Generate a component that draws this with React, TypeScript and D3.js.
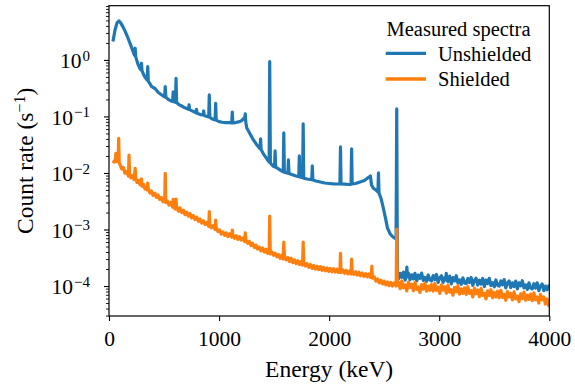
import React, { useEffect, useRef } from "react";
import * as d3 from "d3";

const W = 575;
const H = 385;
const PL = 109;
const PR = 549.3;
const PT = 5.7;
const PB = 316;
const FONT = "'Liberation Serif', 'Times New Roman', serif";

const xDomain = [0, 4000];
const yDomain = [2.95e-5, 9.1];
const xTicks = [0, 1000, 2000, 3000, 4000];
const yMajorTicks = [1e-4, 1e-3, 1e-2, 1e-1, 1];
const xLabel = "Energy (keV)";
const yLabelMain = "Count rate (s";
const yLabelExp = "\u22121";
const legendTitle = "Measured spectra";
const seriesNames = ["Unshielded", "Shielded"];
const seriesColors = ["#1f77b4", "#ff7f0e"];

// Unshielded spectrum: [energy keV, count rate s^-1]
const unshielded: [number, number][] = [
  [36, 2.11], [55, 3.4], [73, 4.52], [91, 4.9], [109, 4.43], [127, 3.84], [145, 3.26], [173, 2.42],
  [200, 1.77], [225, 1.3], [233, 1.2], [238, 1.61], [243, 1.13], [262, 0.85], [280, 0.713], [290, 0.67],
  [295, 0.874], [300, 0.64], [320, 0.52], [340, 0.46], [347, 0.44], [352, 0.761], [357, 0.42],
  [388, 0.337], [418, 0.312], [448, 0.265], [480, 0.24], [505, 0.222], [511, 0.337], [517, 0.218],
  [545, 0.196], [570, 0.186], [578, 0.184], [583, 0.272], [588, 0.182], [604, 0.178], [609, 0.474],
  [614, 0.176], [640, 0.16], [660, 0.153], [690, 0.142], [722, 0.134], [727, 0.16], [732, 0.132],
  [760, 0.124], [790, 0.116], [795, 0.133], [800, 0.114], [830, 0.108], [855, 0.106], [860, 0.125],
  [865, 0.104], [890, 0.1], [906, 0.098], [911, 0.24], [916, 0.096], [940, 0.09], [964, 0.087],
  [969, 0.171], [974, 0.086], [1000, 0.081], [1030, 0.079], [1060, 0.078], [1090, 0.0775],
  [1115, 0.077], [1120, 0.119], [1125, 0.077], [1150, 0.078], [1175, 0.08], [1200, 0.083],
  [1220, 0.09], [1234, 0.097], [1238, 0.111], [1243, 0.078], [1252, 0.0626], [1282, 0.049],
  [1312, 0.0384], [1343, 0.0313], [1372, 0.027], [1377, 0.04], [1382, 0.026], [1403, 0.0217],
  [1434, 0.0177], [1455, 0.0157], [1460, 0.933], [1466, 0.015], [1490, 0.0133], [1504, 0.0129],
  [1509, 0.0245], [1514, 0.0127], [1540, 0.0118], [1570, 0.0108], [1583, 0.0105], [1588, 0.051],
  [1593, 0.0103], [1625, 0.0099], [1630, 0.017], [1635, 0.0098], [1660, 0.0094], [1700, 0.00885],
  [1724, 0.0086], [1729, 0.02], [1734, 0.0085], [1759, 0.0082], [1764, 0.0736], [1769, 0.0081],
  [1800, 0.00783], [1842, 0.0076], [1847, 0.0133], [1852, 0.0075], [1880, 0.0072], [1920, 0.00693],
  [1960, 0.00665], [2000, 0.00652], [2040, 0.0064], [2080, 0.00638], [2098, 0.0064], [2103, 0.0289],
  [2108, 0.0064], [2140, 0.00635], [2180, 0.00626], [2199, 0.0063], [2204, 0.0266], [2209, 0.0064],
  [2240, 0.00652], [2280, 0.00693], [2320, 0.00737], [2350, 0.00816], [2375, 0.00885], [2385, 0.00613],
  [2400, 0.00543], [2430, 0.0049], [2443, 0.0046], [2448, 0.01], [2453, 0.0044], [2470, 0.00361],
  [2490, 0.0025], [2510, 0.00166], [2530, 0.00106], [2555, 0.000832], [2580, 0.000737],
  [2608, 0.000679], [2614, 0.136], [2620, 0.000148],
  [2630, 1.35e-4], [2645, 1.68e-4], [2660, 1.42e-4], [2675, 1.76e-4], [2690, 1.27e-4], [2701, 1.5e-4],
  [2706, 2.17e-4], [2711, 1.45e-4], [2720, 1.69e-4], [2735, 1.29e-4], [2750, 1.58e-4], [2765, 1.34e-4],
  [2780, 1.68e-4], [2795, 1.23e-4], [2810, 1.56e-4], [2825, 1.37e-4], [2840, 1.69e-4], [2855, 1.26e-4],
  [2870, 1.42e-4], [2885, 1.21e-4], [2900, 1.57e-4], [2915, 1.28e-4], [2930, 1.23e-4], [2945, 1.53e-4],
  [2960, 1.29e-4], [2975, 1.6e-4], [2990, 1.16e-4], [3005, 1.4e-4], [3020, 1.52e-4], [3035, 1.16e-4],
  [3050, 1.41e-4], [3059, 1.3e-4], [3064, 1.68e-4], [3069, 1.25e-4], [3080, 1.2e-4], [3095, 1.5e-4],
  [3110, 1.09e-4], [3125, 1.41e-4], [3140, 1.23e-4], [3155, 1.52e-4], [3170, 1.13e-4], [3185, 1.28e-4],
  [3200, 1.07e-4], [3215, 1.4e-4], [3230, 1.13e-4], [3245, 1.1e-4], [3260, 1.36e-4], [3275, 1.15e-4],
  [3290, 1.42e-4], [3305, 1.03e-4], [3320, 1.25e-4], [3335, 1.37e-4], [3350, 1.04e-4], [3365, 1.27e-4],
  [3380, 1.08e-4], [3395, 1.36e-4], [3410, 0.98e-4], [3425, 1.27e-4], [3440, 1.11e-4], [3455, 1.37e-4],
  [3470, 1.02e-4], [3485, 1.15e-4], [3500, 0.97e-4], [3515, 1.28e-4], [3530, 1.03e-4], [3545, 1.0e-4],
  [3560, 1.23e-4], [3575, 1.05e-4], [3590, 1.3e-4], [3605, 0.93e-4], [3620, 1.13e-4], [3635, 1.23e-4],
  [3650, 0.94e-4], [3665, 1.14e-4], [3680, 0.98e-4], [3695, 1.22e-4], [3710, 0.89e-4], [3725, 1.14e-4],
  [3740, 1.01e-4], [3755, 1.24e-4], [3770, 0.93e-4], [3785, 1.05e-4], [3800, 0.87e-4], [3815, 1.14e-4],
  [3830, 0.92e-4], [3845, 0.89e-4], [3860, 1.1e-4], [3875, 0.92e-4], [3890, 1.14e-4], [3905, 0.83e-4],
  [3920, 1.0e-4], [3935, 1.09e-4], [3950, 0.83e-4], [3965, 1.0e-4], [3980, 0.86e-4], [3995, 1.01e-4],
  [4000, 0.9e-4],
];

// Shielded spectrum: [energy keV, count rate s^-1]
const shielded: [number, number][] = [
  [36, 0.015], [50, 0.0165], [58, 0.016], [62, 0.0223], [66, 0.0158], [75, 0.0165], [83, 0.016],
  [88, 0.0411], [93, 0.015], [100, 0.014], [115, 0.0118], [130, 0.0126], [145, 0.0099], [160, 0.0106],
  [177, 0.0088], [182, 0.0208], [187, 0.0095], [200, 0.0082], [215, 0.009], [228, 0.0076],
  [238, 0.0121], [243, 0.0082], [255, 0.0068], [268, 0.0074], [282, 0.0062], [290, 0.0068],
  [295, 0.00783], [300, 0.0058], [313, 0.0063], [327, 0.0052], [340, 0.0056], [347, 0.005],
  [352, 0.00665], [357, 0.0052], [373, 0.0044], [386, 0.0048], [400, 0.004], [418, 0.0044],
  [430, 0.0037], [445, 0.0041], [460, 0.0034], [475, 0.0037], [490, 0.0031], [506, 0.0034],
  [511, 0.00988], [516, 0.003], [530, 0.0032], [545, 0.0027], [560, 0.003], [578, 0.0025],
  [583, 0.00343], [588, 0.0027], [600, 0.0023], [609, 0.00346], [614, 0.0026], [630, 0.0021],
  [645, 0.0024], [660, 0.002], [675, 0.0022], [690, 0.00183], [705, 0.00203], [720, 0.00172],
  [736, 0.00192], [750, 0.0016], [765, 0.00178], [782, 0.0015], [797, 0.00165], [812, 0.0014],
  [827, 0.00153], [842, 0.0013], [857, 0.00143], [873, 0.00122], [888, 0.00134], [906, 0.00114],
  [911, 0.00207], [916, 0.00124], [930, 0.00107], [945, 0.00117], [964, 0.001], [969, 0.00147],
  [974, 0.00109], [990, 0.00092], [1005, 0.00098], [1020, 0.00083], [1035, 0.00091], [1050, 0.00079],
  [1065, 0.00087], [1080, 0.00075], [1095, 0.00084], [1115, 0.00073], [1120, 0.00098], [1125, 0.00081],
  [1140, 0.0007], [1155, 0.00078], [1170, 0.00067], [1185, 0.00075], [1200, 0.00065], [1215, 0.00071],
  [1232, 0.00061], [1238, 0.00087], [1244, 0.00066], [1260, 0.00057], [1275, 0.00062], [1290, 0.00052],
  [1305, 0.00057], [1320, 0.00048], [1335, 0.00053], [1350, 0.00045], [1365, 0.00049], [1380, 0.00042],
  [1395, 0.00047], [1410, 0.0004], [1425, 0.00045], [1440, 0.00038], [1455, 0.00042], [1460, 0.00173],
  [1465, 0.00037], [1480, 0.0004], [1495, 0.00035], [1510, 0.00038], [1525, 0.00033], [1540, 0.00036],
  [1555, 0.00031], [1570, 0.00035], [1582, 0.0003], [1588, 0.0006], [1594, 0.00034], [1610, 0.00029],
  [1625, 0.00032], [1640, 0.00027], [1655, 0.00031], [1670, 0.00026], [1685, 0.00029], [1700, 0.00025],
  [1715, 0.00028], [1730, 0.00024], [1745, 0.00027], [1758, 0.000235], [1764, 0.0006], [1770, 0.00026],
  [1785, 0.000225], [1800, 0.00025], [1815, 0.000215], [1830, 0.00024], [1845, 0.000205],
  [1860, 0.000232], [1875, 0.0002], [1890, 0.000224], [1905, 0.000195], [1920, 0.00022],
  [1935, 0.00019], [1950, 0.000214], [1965, 0.000186], [1980, 0.000209], [1995, 0.000182],
  [2010, 0.000205], [2025, 0.000178], [2040, 0.000202], [2055, 0.000176], [2070, 0.000198],
  [2085, 0.000174], [2098, 0.000192], [2103, 0.00038], [2108, 0.000172], [2125, 0.000193],
  [2140, 0.000168], [2155, 0.000189], [2170, 0.000164], [2185, 0.000185], [2199, 0.000163],
  [2204, 0.0003], [2209, 0.00018], [2225, 0.00016], [2240, 0.000179], [2255, 0.000156],
  [2270, 0.000175], [2285, 0.000152], [2300, 0.00017], [2315, 0.000148], [2330, 0.000166],
  [2345, 0.000145], [2360, 0.000164], [2375, 0.000143], [2383, 0.000155], [2388, 0.000225],
  [2393, 0.000138], [2410, 0.000145], [2425, 0.000122], [2440, 0.000134], [2455, 0.000114],
  [2470, 0.000127], [2485, 0.000109], [2500, 0.000122], [2515, 0.000105], [2530, 0.000118],
  [2545, 0.000102], [2560, 0.000116], [2575, 0.0001], [2590, 0.000113], [2609, 0.0001],
  [2614, 0.00102], [2619, 0.000105],
  [2630, 1.17e-4], [2645, 0.9e-4], [2660, 1.23e-4], [2675, 0.93e-4], [2690, 1.05e-4], [2705, 0.82e-4],
  [2720, 1.17e-4], [2735, 0.94e-4], [2750, 1.08e-4], [2765, 0.83e-4], [2780, 1.16e-4], [2795, 0.87e-4],
  [2810, 0.96e-4], [2825, 0.77e-4], [2840, 1.06e-4], [2855, 0.88e-4], [2870, 1.13e-4], [2885, 0.81e-4],
  [2900, 1.0e-4], [2915, 0.84e-4], [2930, 1.06e-4], [2945, 0.81e-4], [2960, 1.11e-4], [2975, 0.84e-4],
  [2990, 0.95e-4], [3005, 0.74e-4], [3020, 1.05e-4], [3035, 0.85e-4], [3050, 0.97e-4], [3065, 0.75e-4],
  [3080, 1.04e-4], [3095, 0.78e-4], [3110, 0.86e-4], [3125, 0.69e-4], [3140, 0.95e-4], [3155, 0.79e-4],
  [3170, 1.01e-4], [3185, 0.72e-4], [3200, 0.89e-4], [3215, 0.74e-4], [3230, 0.93e-4], [3245, 0.71e-4],
  [3260, 0.98e-4], [3275, 0.74e-4], [3290, 0.83e-4], [3305, 0.64e-4], [3320, 0.92e-4], [3335, 0.73e-4],
  [3350, 0.85e-4], [3365, 0.65e-4], [3380, 0.91e-4], [3395, 0.68e-4], [3410, 0.74e-4], [3425, 0.59e-4],
  [3440, 0.82e-4], [3455, 0.68e-4], [3470, 0.86e-4], [3485, 0.62e-4], [3500, 0.77e-4], [3515, 0.64e-4],
  [3530, 0.81e-4], [3545, 0.62e-4], [3560, 0.84e-4], [3575, 0.63e-4], [3590, 0.71e-4], [3605, 0.56e-4],
  [3620, 0.8e-4], [3635, 0.64e-4], [3650, 0.74e-4], [3665, 0.57e-4], [3680, 0.79e-4], [3695, 0.59e-4],
  [3710, 0.66e-4], [3725, 0.53e-4], [3740, 0.73e-4], [3755, 0.6e-4], [3770, 0.78e-4], [3785, 0.56e-4],
  [3800, 0.69e-4], [3815, 0.58e-4], [3830, 0.72e-4], [3845, 0.55e-4], [3860, 0.76e-4], [3875, 0.57e-4],
  [3890, 0.64e-4], [3905, 0.5e-4], [3920, 0.71e-4], [3935, 0.57e-4], [3950, 0.64e-4], [3965, 0.48e-4],
  [3980, 0.59e-4], [3995, 0.45e-4], [4000, 0.48e-4],
];

const seriesData = [unshielded, shielded];

export default function App() {
  const xAxisRef = useRef<SVGGElement>(null);
  const yMajorRef = useRef<SVGGElement>(null);
  const yMinorRef = useRef<SVGGElement>(null);

  const x = d3.scaleLinear().domain(xDomain).range([PL, PR]);
  const y = d3.scaleLog().domain(yDomain).range([PB, PT]);

  const line = d3
    .line<[number, number]>()
    .x((d) => x(d[0]))
    .y((d) => y(d[1]));

  useEffect(() => {
    const gx = d3.select(xAxisRef.current!);
    gx.call(
      d3.axisBottom(x).tickValues(xTicks).tickSize(5).tickPadding(10).tickFormat(d3.format("d")) as any
    );
    gx.select(".domain").remove();
    gx.attr("font-family", null).attr("font-size", null);
    gx.selectAll(".tick line").attr("stroke", "#000").attr("stroke-width", 1.1);
    gx.selectAll(".tick text")
      .attr("font-family", FONT)
      .attr("font-size", 21.5)
      .attr("fill", "#000");

    const minorVals = y.ticks().filter((v) => !yMajorTicks.some((m) => Math.abs(m - v) / m < 1e-6));
    const gmin = d3.select(yMinorRef.current!);
    gmin.call(d3.axisLeft(y).tickValues(minorVals).tickSize(3).tickFormat(() => "") as any);
    gmin.select(".domain").remove();
    gmin.selectAll(".tick line").attr("stroke", "#000").attr("stroke-width", 0.9);

    const gy = d3.select(yMajorRef.current!);
    gy.call(d3.axisLeft(y).tickValues(yMajorTicks).tickSize(5).tickPadding(14) as any);
    gy.select(".domain").remove();
    gy.attr("font-family", null).attr("font-size", null);
    gy.selectAll(".tick line").attr("stroke", "#000").attr("stroke-width", 1.1);
    gy.selectAll<SVGTextElement, number>(".tick text").each(function (d) {
      const t = d3.select(this);
      const e = Math.round(Math.log10(d));
      t.text(null)
        .attr("font-family", FONT)
        .attr("font-size", 21.5)
        .attr("fill", "#000")
        .attr("dy", "0.36em");
      t.append("tspan").text("10");
      t.append("tspan")
        .attr("dy", -7.5)
        .attr("dx", 1)
        .attr("font-size", 15)
        .text(e < 0 ? "\u2212" + Math.abs(e) : String(e));
    });
  }, []);

  return (
    <svg
      width={W}
      height={H}
      style={{ position: "absolute", left: 0, top: 0, background: "#fff" }}
    >
      <defs>
        <clipPath id="plot-clip">
          <rect x={PL} y={PT} width={PR - PL} height={PB - PT} />
        </clipPath>
      </defs>
      <rect x={0} y={0} width={W} height={H} fill="#fff" />
      <g clipPath="url(#plot-clip)">
        {seriesData.map((s, i) => (
          <path
            key={seriesNames[i]}
            d={line(s) || ""}
            fill="none"
            stroke={seriesColors[i]}
            strokeWidth={3.2}
            strokeLinejoin="round"
          />
        ))}
      </g>
      <rect
        x={PL}
        y={PT}
        width={PR - PL}
        height={PB - PT}
        fill="none"
        stroke="#000"
        strokeWidth={1.2}
      />
      <g ref={xAxisRef} transform={`translate(0,${PB})`} />
      <g ref={yMinorRef} transform={`translate(${PL},0)`} />
      <g ref={yMajorRef} transform={`translate(${PL},0)`} />
      <text
        x={(PL + PR) / 2}
        y={377}
        textAnchor="middle"
        fontFamily={FONT}
        fontSize={23.5}
        fill="#000"
      >
        {xLabel}
      </text>
      <text
        transform={`translate(33.3,${(PT + PB) / 2}) rotate(-90)`}
        textAnchor="middle"
        fontFamily={FONT}
        fontSize={23.5}
        fill="#000"
      >
        {yLabelMain}
        <tspan dy={-8.5} fontSize={16}>
          {yLabelExp}
        </tspan>
        <tspan dy={8.5}>)</tspan>
      </text>
      <g fontFamily={FONT} fontSize={20.5} fill="#000">
        <text x={458.5} y={35.5} textAnchor="middle">
          {legendTitle}
        </text>
        {seriesNames.map((name, i) => (
          <g key={name}>
            <line
              x1={385.7}
              x2={426}
              y1={53.3 + i * 25.7}
              y2={53.3 + i * 25.7}
              stroke={seriesColors[i]}
              strokeWidth={3.3}
            />
            <text x={438} y={61 + i * 25}>
              {name}
            </text>
          </g>
        ))}
      </g>
    </svg>
  );
}
